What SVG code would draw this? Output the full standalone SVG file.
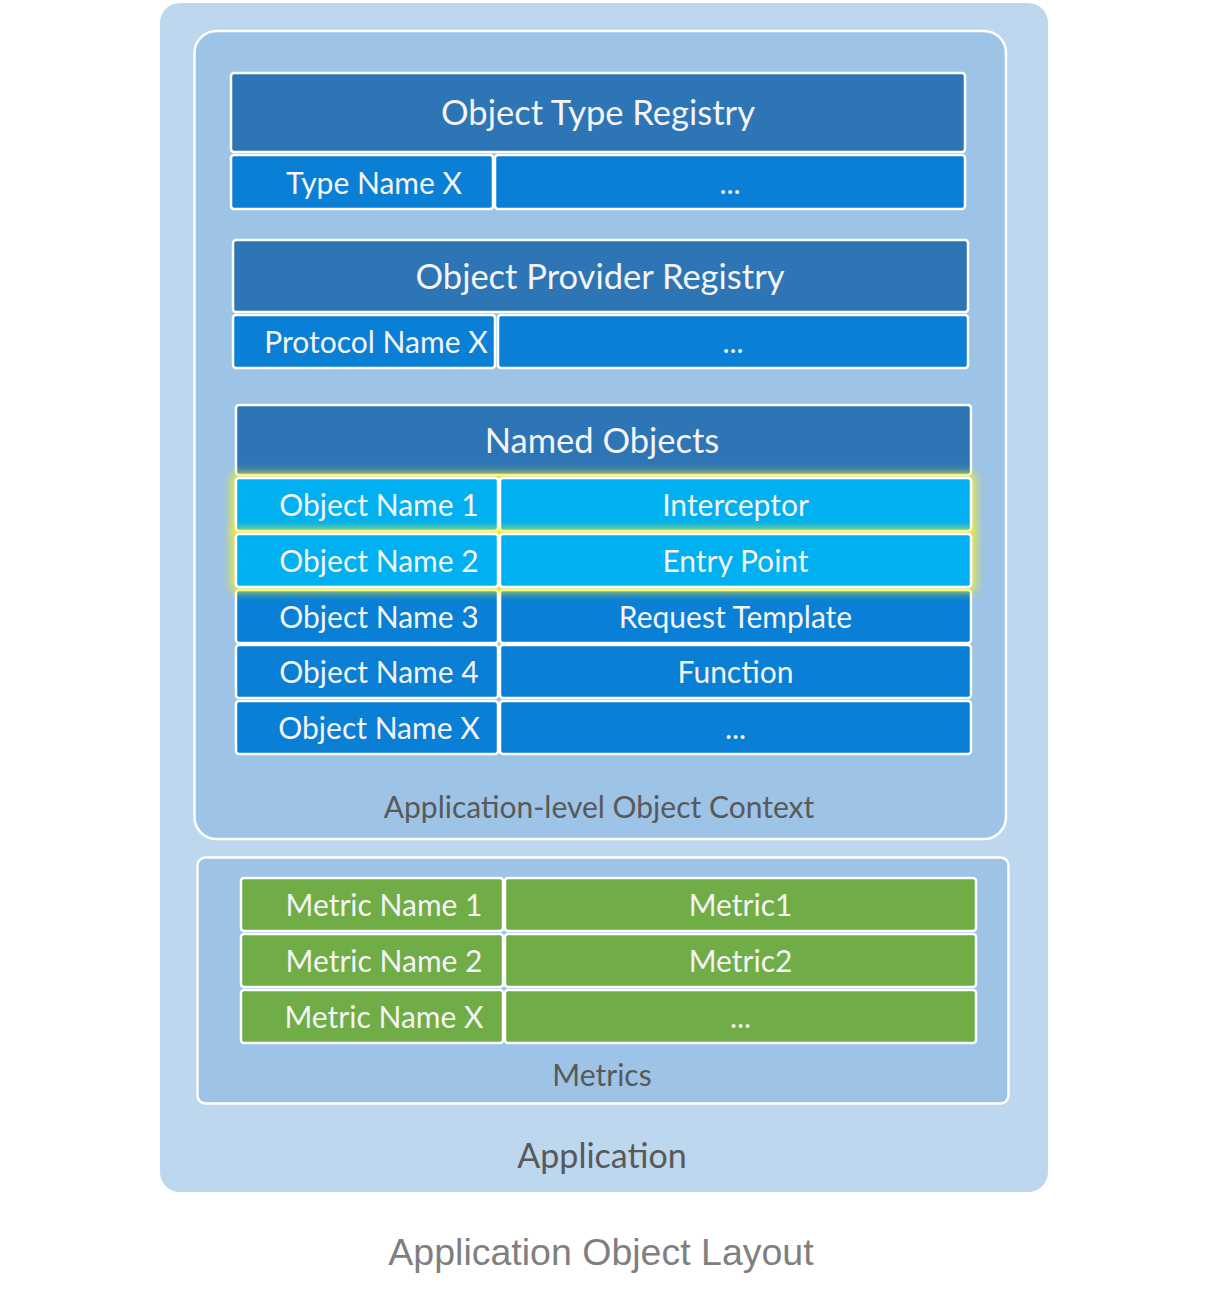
<svg xmlns="http://www.w3.org/2000/svg" width="1205" height="1298" viewBox="0 0 1205 1298">
  <defs>
    <style>
      .bg { fill: #ffffff; }
      .app { fill: #bdd7ee; }
      .ctx { fill: #9dc3e6; stroke: #ffffff; stroke-width: 2.5; }
      .hdr { fill: #2e75b6; stroke: #ffffff; stroke-width: 2.5; }
      .cell { fill: #0a7fd6; stroke: #ffffff; stroke-width: 2.5; }
      .hl { fill: #00b0f0; stroke: #ffffff; stroke-width: 2.5; }
      .grn { fill: #70ad47; stroke: #ffffff; stroke-width: 2.5; }
      .t { font-family: Lato, "Liberation Sans", sans-serif; fill: #f4f4f4; text-anchor: middle; }
      .th { font-size: 34.5px; }
      .tc { font-size: 30px; }
      .lbl { font-family: Lato, "Liberation Sans", sans-serif; fill: #595959; text-anchor: middle; font-size: 30px; }
      .lbl2 { font-size: 34px; }
      .title { font-family: "Liberation Sans", Arial, sans-serif; fill: #7f7f7f; text-anchor: middle; font-size: 37.5px; }
    </style>
    <filter id="glow" x="-6%" y="-40%" width="112%" height="180%">
      <feMorphology in="SourceAlpha" operator="dilate" radius="3" result="d"/>
      <feGaussianBlur in="d" stdDeviation="5" result="b"/>
      <feFlood flood-color="#f2ef2a" flood-opacity="1"/>
      <feComposite in2="b" operator="in" result="g"/>
      <feMerge>
        <feMergeNode in="g"/>
        <feMergeNode in="SourceGraphic"/>
      </feMerge>
    </filter>
  </defs>

  <rect class="bg" x="0" y="0" width="1205" height="1298"/>

  <g id="application">
    <rect class="app" x="160" y="3" width="888" height="1189" rx="20"/>
    <text class="lbl lbl2" x="602" y="1168">Application</text>
  </g>

  <g id="object-context">
    <rect class="ctx" x="194.5" y="31" width="811.5" height="808" rx="22"/>
    <text class="lbl" x="599" y="818">Application-level Object Context</text>
  </g>

  <g id="object-type-registry">
    <rect class="hdr" x="231" y="73" width="734" height="79" rx="3"/>
    <text class="t th" x="598" y="125">Object Type Registry</text>
    <rect class="cell" x="231" y="155" width="262" height="54" rx="3"/>
    <text class="t tc" x="374" y="194">Type Name X</text>
    <rect class="cell" x="495" y="155" width="470" height="54" rx="3"/>
    <text class="t tc" x="730" y="194">...</text>
  </g>

  <g id="object-provider-registry">
    <rect class="hdr" x="233" y="240" width="735" height="72" rx="3"/>
    <text class="t th" x="600" y="289">Object Provider Registry</text>
    <rect class="cell" x="233" y="315" width="262" height="53" rx="3"/>
    <text class="t tc" x="376" y="353">Protocol Name X</text>
    <rect class="cell" x="498" y="315" width="470" height="53" rx="3"/>
    <text class="t tc" x="733" y="353">...</text>
  </g>

  <g id="named-objects">
    <rect class="hdr" x="236" y="405" width="735" height="70" rx="3"/>
    <text class="t th" x="602" y="453">Named Objects</text>

    <g id="named-row-3">
      <rect class="cell" x="236" y="590" width="262" height="53" rx="3"/>
      <text class="t tc" x="379" y="628">Object Name 3</text>
      <rect class="cell" x="500" y="590" width="471" height="53" rx="3"/>
      <text class="t tc" x="735.5" y="628">Request Template</text>
    </g>
    <g id="named-row-4">
      <rect class="cell" x="236" y="645" width="262" height="53" rx="3"/>
      <text class="t tc" x="379" y="683">Object Name 4</text>
      <rect class="cell" x="500" y="645" width="471" height="53" rx="3"/>
      <text class="t tc" x="735.5" y="683">Function</text>
    </g>
    <g id="named-row-x">
      <rect class="cell" x="236" y="701" width="262" height="53" rx="3"/>
      <text class="t tc" x="379" y="739">Object Name X</text>
      <rect class="cell" x="500" y="701" width="471" height="53" rx="3"/>
      <text class="t tc" x="735.5" y="739">...</text>
    </g>
    <g id="named-row-1">
      <g filter="url(#glow)">
        <rect class="hl" x="236" y="478" width="262" height="53" rx="3"/>
        <rect class="hl" x="500" y="478" width="471" height="53" rx="3"/>
      </g>
      <text class="t tc" x="379" y="516">Object Name 1</text>
      <text class="t tc" x="735.5" y="516">Interceptor</text>
    </g>
    <g id="named-row-2">
      <g filter="url(#glow)">
        <rect class="hl" x="236" y="534" width="262" height="53" rx="3"/>
        <rect class="hl" x="500" y="534" width="471" height="53" rx="3"/>
      </g>
      <text class="t tc" x="379" y="572">Object Name 2</text>
      <text class="t tc" x="735.5" y="572">Entry Point</text>
    </g>
  </g>

  <g id="metrics">
    <rect class="ctx" x="197.5" y="857.5" width="811" height="246" rx="8"/>
    <text class="lbl" x="602" y="1086">Metrics</text>
    <rect class="grn" x="241" y="878" width="262" height="53" rx="3"/>
    <text class="t tc" x="384" y="916">Metric Name 1</text>
    <rect class="grn" x="505" y="878" width="471" height="53" rx="3"/>
    <text class="t tc" x="740.5" y="916">Metric1</text>
    <rect class="grn" x="241" y="934" width="262" height="53" rx="3"/>
    <text class="t tc" x="384" y="972">Metric Name 2</text>
    <rect class="grn" x="505" y="934" width="471" height="53" rx="3"/>
    <text class="t tc" x="740.5" y="972">Metric2</text>
    <rect class="grn" x="241" y="990" width="262" height="53" rx="3"/>
    <text class="t tc" x="384" y="1028">Metric Name X</text>
    <rect class="grn" x="505" y="990" width="471" height="53" rx="3"/>
    <text class="t tc" x="740.5" y="1028">...</text>
  </g>

  <g id="caption">
    <text class="title" x="601" y="1265">Application Object Layout</text>
  </g>
</svg>
